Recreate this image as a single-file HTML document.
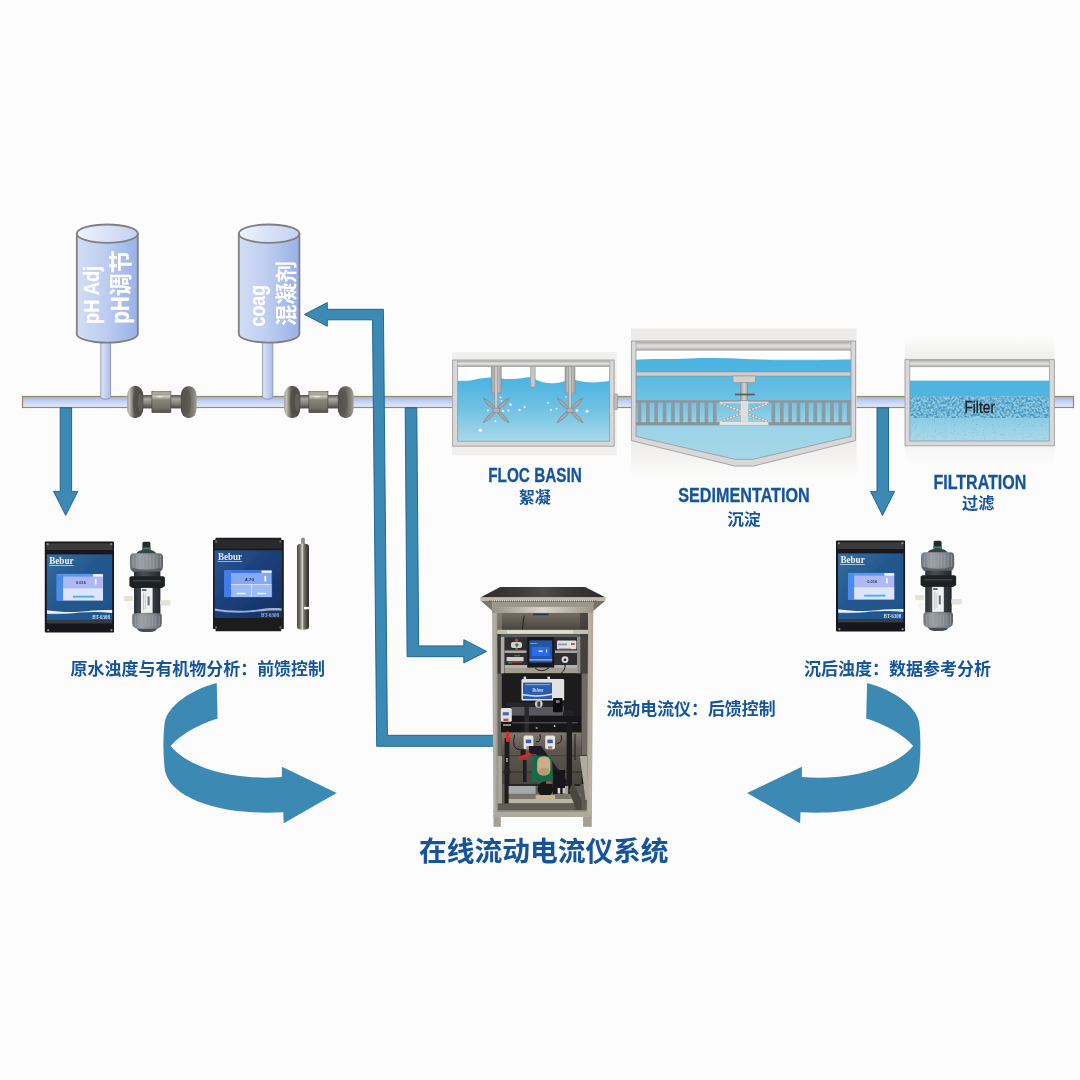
<!DOCTYPE html>
<html lang="zh-CN">
<head>
<meta charset="utf-8">
<title>在线流动电流仪系统</title>
<style>html,body{margin:0;padding:0;background:#fcfcfc;}body{width:1080px;height:1080px;overflow:hidden;}svg{display:block;}</style>
</head>
<body>
<svg width="1080" height="1080" viewBox="0 0 1080 1080">
<defs>
<linearGradient id="gPipe" x1="0" y1="0" x2="0" y2="1">
 <stop offset="0" stop-color="#9bb3ec"/><stop offset="0.45" stop-color="#c3d1f3"/><stop offset="1" stop-color="#e6ebf9"/>
</linearGradient>
<linearGradient id="gStem" x1="0" y1="0" x2="1" y2="0">
 <stop offset="0" stop-color="#dfe6f8"/><stop offset="1" stop-color="#a9bdec"/>
</linearGradient>
<linearGradient id="gTank" x1="0" y1="0" x2="1" y2="0">
 <stop offset="0" stop-color="#d3def5"/><stop offset="0.5" stop-color="#bccbf0"/><stop offset="1" stop-color="#98b1e6"/>
</linearGradient>
<linearGradient id="gTankTop" x1="0" y1="0" x2="1" y2="0">
 <stop offset="0" stop-color="#eef2fc"/><stop offset="1" stop-color="#c3d2f2"/>
</linearGradient>
<linearGradient id="gWater" x1="0" y1="0" x2="0" y2="1">
 <stop offset="0" stop-color="#4ab3e1"/><stop offset="0.45" stop-color="#6cc0e3"/><stop offset="1" stop-color="#a9d9ea"/>
</linearGradient>
<linearGradient id="gFrameH" x1="0" y1="0" x2="0" y2="1">
 <stop offset="0" stop-color="#b4b4b4"/><stop offset="0.5" stop-color="#e0e0e0"/><stop offset="1" stop-color="#bebebe"/>
</linearGradient>
<linearGradient id="gFrameV" x1="0" y1="0" x2="1" y2="0">
 <stop offset="0" stop-color="#a9a9a9"/><stop offset="0.5" stop-color="#dcdcdc"/><stop offset="1" stop-color="#b4b4b4"/>
</linearGradient>


<linearGradient id="gNeck" x1="0" y1="0" x2="0" y2="1">
 <stop offset="0" stop-color="#55544f"/><stop offset="0.3" stop-color="#a9a8a0"/><stop offset="0.55" stop-color="#8c8b84"/><stop offset="1" stop-color="#4a4944"/>
</linearGradient>
<linearGradient id="gBlock" x1="0" y1="0" x2="0" y2="1">
 <stop offset="0" stop-color="#66645c"/><stop offset="0.14" stop-color="#a5a399"/><stop offset="0.24" stop-color="#c9c7bf"/><stop offset="0.4" stop-color="#88867c"/><stop offset="0.8" stop-color="#716f65"/><stop offset="1" stop-color="#48463f"/>
</linearGradient>
<radialGradient id="gFlange" cx="0.45" cy="0.5" r="0.6">
 <stop offset="0" stop-color="#5f5e59"/><stop offset="0.6" stop-color="#73726c"/><stop offset="0.85" stop-color="#8f8e86"/><stop offset="1" stop-color="#b0aea4"/>
</radialGradient>
<linearGradient id="gFlangeL" x1="0" y1="0" x2="1" y2="0">
 <stop offset="0" stop-color="#a4a296"/><stop offset="0.14" stop-color="#c4c2b5"/><stop offset="0.32" stop-color="#86857d"/><stop offset="0.46" stop-color="#5a5954"/><stop offset="1" stop-color="#4c4b46"/>
</linearGradient>
<linearGradient id="gFlangeR" x1="0" y1="0" x2="1" y2="0">
 <stop offset="0" stop-color="#4f4e49"/><stop offset="0.45" stop-color="#63625c"/><stop offset="0.75" stop-color="#7f7e76"/><stop offset="1" stop-color="#a09e94"/>
</linearGradient>


<linearGradient id="gImgBg" x1="0" y1="0" x2="0" y2="1">
 <stop offset="0" stop-color="#ecebe9"/><stop offset="0.72" stop-color="#ebe9e7"/><stop offset="0.88" stop-color="#f4f3f2"/><stop offset="1" stop-color="#fcfcfc"/>
</linearGradient>
<linearGradient id="gWaterS" gradientUnits="userSpaceOnUse" x1="0" y1="359" x2="0" y2="462">
 <stop offset="0" stop-color="#4bb4e1"/><stop offset="0.4" stop-color="#6fc2e4"/><stop offset="0.64" stop-color="#9bd3e7"/><stop offset="1" stop-color="#a6d8e8"/>
</linearGradient>
<linearGradient id="gMetalV" x1="0" y1="0" x2="1" y2="0">
 <stop offset="0" stop-color="#9a9a9a"/><stop offset="0.5" stop-color="#d6d6d6"/><stop offset="1" stop-color="#9f9f9f"/>
</linearGradient>


<linearGradient id="gFiltBg" x1="0" y1="0" x2="0" y2="1">
 <stop offset="0" stop-color="#fbfbfb"/><stop offset="0.15" stop-color="#efeeec"/><stop offset="0.7" stop-color="#f1f0ee"/><stop offset="1" stop-color="#fbfbfb"/>
</linearGradient>
<linearGradient id="gWater2" x1="0" y1="0" x2="0" y2="1">
 <stop offset="0" stop-color="#8ccbe3"/><stop offset="1" stop-color="#abdae9"/>
</linearGradient>
<filter id="fMedia" x="0" y="0" width="100%" height="100%" color-interpolation-filters="sRGB">
 <feTurbulence type="fractalNoise" baseFrequency="0.42" numOctaves="2" seed="7" result="n"/>
 <feColorMatrix in="n" type="matrix" values="0 0 0 0 0.27  0 0 0 0 0.59  0 0 0 0 0.76  2.8 0 0 0 -0.95" result="dark"/>
 <feFlood flood-color="#92cde4"/>
 <feComposite in="dark" operator="over" result="m"/>
 <feComposite in="m" in2="SourceGraphic" operator="in"/>
</filter>
<filter id="fSpeck" x="0" y="0" width="100%" height="100%" color-interpolation-filters="sRGB">
 <feTurbulence type="fractalNoise" baseFrequency="0.9" numOctaves="1" seed="11" result="n"/>
 <feColorMatrix in="n" type="matrix" values="0 0 0 0 0.36  0 0 0 0 0.64  0 0 0 0 0.78  0 3.0 0 0 -1.85" result="sp"/>
 <feComposite in="sp" in2="SourceGraphic" operator="in"/>
</filter>
<pattern id="pSpeck" x="0" y="0" width="7" height="5" patternUnits="userSpaceOnUse">
 <circle cx="1" cy="1" r="0.45" fill="#5fa9c9"/><circle cx="4.4" cy="2.6" r="0.45" fill="#5fa9c9"/><circle cx="2.6" cy="4.1" r="0.4" fill="#6ab0cf"/><circle cx="6" cy="0.6" r="0.4" fill="#6ab0cf"/>
</pattern>


<linearGradient id="gFace" x1="0" y1="0" x2="1" y2="1">
 <stop offset="0" stop-color="#356d9e"/><stop offset="0.45" stop-color="#23588e"/><stop offset="1" stop-color="#1e528a"/>
</linearGradient>
<linearGradient id="gFace2" x1="0" y1="0" x2="1" y2="1">
 <stop offset="0" stop-color="#2c5893"/><stop offset="0.45" stop-color="#1c3f7a"/><stop offset="1" stop-color="#152f60"/>
</linearGradient>
<linearGradient id="gCap" x1="0" y1="0" x2="1" y2="0">
 <stop offset="0" stop-color="#6f757c"/><stop offset="0.3" stop-color="#9ba0a6"/><stop offset="0.7" stop-color="#858a91"/><stop offset="1" stop-color="#5c6167"/>
</linearGradient>
<linearGradient id="gBody" x1="0" y1="0" x2="1" y2="0">
 <stop offset="0" stop-color="#2b3034"/><stop offset="0.35" stop-color="#4a5157"/><stop offset="1" stop-color="#24282c"/>
</linearGradient>
<linearGradient id="gProbe" x1="0" y1="0" x2="1" y2="0">
 <stop offset="0" stop-color="#4a4641"/><stop offset="0.26" stop-color="#7c7870"/><stop offset="0.46" stop-color="#d4d1ca"/><stop offset="0.56" stop-color="#7e7a72"/><stop offset="0.8" stop-color="#4a4641"/><stop offset="1" stop-color="#2f2c29"/>
</linearGradient>
<filter id="fBlur" x="-5%" y="-5%" width="110%" height="110%"><feGaussianBlur stdDeviation="0.5"/></filter>
<filter id="fBlur2" x="-5%" y="-5%" width="110%" height="110%"><feGaussianBlur stdDeviation="0.5"/></filter>


<linearGradient id="gRoof" x1="0" y1="0" x2="1" y2="0">
 <stop offset="0" stop-color="#2f2c2b"/><stop offset="0.3" stop-color="#3d3a38"/><stop offset="0.5" stop-color="#4f4c4a"/><stop offset="0.7" stop-color="#3b3836"/><stop offset="1" stop-color="#2c2a29"/>
</linearGradient>
<linearGradient id="gSteelL" x1="0" y1="0" x2="1" y2="0">
 <stop offset="0" stop-color="#a29f96"/><stop offset="0.4" stop-color="#b6b2a8"/><stop offset="1" stop-color="#99958c"/>
</linearGradient>
<linearGradient id="gSteelR" x1="0" y1="0" x2="1" y2="0">
 <stop offset="0" stop-color="#aca297"/><stop offset="0.5" stop-color="#bcb2a5"/><stop offset="1" stop-color="#ada498"/>
</linearGradient>
<linearGradient id="gFasciaH" x1="0" y1="0" x2="1" y2="0">
 <stop offset="0" stop-color="#979185"/><stop offset="0.5" stop-color="#dbd8ce"/><stop offset="1" stop-color="#9c968a"/>
</linearGradient>
<linearGradient id="gBack1" x1="0" y1="0" x2="0" y2="1">
 <stop offset="0" stop-color="#756d63"/><stop offset="0.45" stop-color="#625b53"/><stop offset="1" stop-color="#48433e"/>
</linearGradient>
<linearGradient id="gBack2" x1="0" y1="0" x2="0" y2="1">
 <stop offset="0" stop-color="#80796e"/><stop offset="0.3" stop-color="#5f5850"/><stop offset="1" stop-color="#4a443e"/>
</linearGradient>
</defs>
<rect x="0" y="0" width="1080" height="1080" fill="#fcfcfc"/>
<rect x="22.5" y="396.5" width="430.5" height="11" fill="url(#gPipe)" stroke="#9a8d5a" stroke-width="1.2"/>
<rect x="612" y="396.5" width="20" height="11" fill="url(#gPipe)" stroke="#9a8d5a" stroke-width="1.2"/>
<rect x="855" y="396.5" width="51" height="11" fill="url(#gPipe)" stroke="#9a8d5a" stroke-width="1.2"/>
<rect x="1053" y="396.5" width="20.5" height="11" fill="url(#gPipe)" stroke="#9a8d5a" stroke-width="1.2"/>
<path d="M100.8 340 V397.5 Q105.69999999999999 401 110.6 397.5 V340 Z" fill="url(#gStem)" stroke="#8f94a8" stroke-width="0.9"/>
<path d="M76.8 233.7 V334 A30.500000000000007 8.6 0 0 0 137.8 334 V233.7 Z" fill="url(#gTank)" stroke="#808080" stroke-width="1.8"/>
<ellipse cx="107.30000000000001" cy="233.7" rx="30.500000000000007" ry="9.2" fill="url(#gTankTop)" stroke="#808080" stroke-width="1.8"/>
<path d="M262.6 340 V397.5 Q267.70000000000005 401 272.8 397.5 V340 Z" fill="url(#gStem)" stroke="#8f94a8" stroke-width="0.9"/>
<path d="M238.8 233.7 V334 A30.299999999999983 8.6 0 0 0 299.4 334 V233.7 Z" fill="url(#gTank)" stroke="#808080" stroke-width="1.8"/>
<ellipse cx="269.1" cy="233.7" rx="30.299999999999983" ry="9.2" fill="url(#gTankTop)" stroke="#808080" stroke-width="1.8"/>
<g opacity="0.999"><text transform="translate(98.9 324) rotate(-90)" font-family='"Liberation Sans",sans-serif' font-size="21.3" font-weight="bold" fill="#ffffff" stroke="#ffffff" stroke-width="0.25" textLength="58.2" lengthAdjust="spacingAndGlyphs">pH Adj</text></g>
<g opacity="0.999"><text transform="translate(128.9 323.8) rotate(-90)" font-family='"Liberation Sans",sans-serif' font-size="25.6" font-weight="bold" fill="#ffffff" stroke="#ffffff" stroke-width="0.25" textLength="27.6" lengthAdjust="spacingAndGlyphs">pH</text></g>
<g opacity="0.999"><text transform="translate(129.2 296.2) rotate(-90)" font-family='"Liberation Sans","Noto Sans CJK SC",sans-serif' font-size="23" font-weight="bold" fill="#ffffff">调节</text></g>
<g opacity="0.999"><text transform="translate(265.1 326.4) rotate(-90)" font-family='"Liberation Sans",sans-serif' font-size="22.4" font-weight="bold" fill="#ffffff" stroke="#ffffff" stroke-width="0.25" textLength="41.4" lengthAdjust="spacingAndGlyphs">coag</text></g>
<g opacity="0.999"><text transform="translate(294 326) rotate(-90)" font-family='"Liberation Sans","Noto Sans CJK SC",sans-serif' font-size="21.6" font-weight="bold" fill="#ffffff">混凝剂</text></g>
<path d="M60.2 407.8 H71.6 V491.4 H77.8 L65.7 515.4 L53.6 491.4 H60.2 Z" fill="#3c89b3" stroke="#13608c" stroke-width="0.9" stroke-linejoin="miter"/>
<path d="M877 407.8 H888.5 V491.4 H894.6 L882.5 515.4 L870.5 491.4 H877 Z" fill="#3c89b3" stroke="#13608c" stroke-width="0.9" stroke-linejoin="miter"/>
<path d="M405.2 407.8 H416.8 L418.7 645.9 H463.8 V639.7 L486.7 651.4 L463.8 663 V656.7 H407.1 Z" fill="#3c89b3" stroke="#13608c" stroke-width="0.9" stroke-linejoin="miter"/>
<path d="M494 735.3 H387.4 L383.4 309.3 H327.3 V302.6 L304.4 314.4 L327.3 326.3 V319.8 H372.5 L376.7 746.3 H494 Z" fill="#3c89b3" stroke="#13608c" stroke-width="0.9" stroke-linejoin="miter"/>
<g transform="translate(0.00 0)"><rect x="138" y="395" width="48" height="13.4" fill="url(#gNeck)"/><rect x="127.1" y="386.1" width="16.2" height="31.9" rx="7" ry="9.5" fill="url(#gFlangeL)"/><ellipse cx="137" cy="402.2" rx="4.4" ry="13" fill="#4a4a45" opacity="0.5"/><ellipse cx="140.4" cy="402.2" rx="2.4" ry="9" fill="#6f6e67" opacity="0.6"/><rect x="180.8" y="386.3" width="15.8" height="31.8" rx="7" ry="9.5" fill="url(#gFlangeR)"/><ellipse cx="187.4" cy="402.2" rx="3.6" ry="12" fill="#4f4e4a" opacity="0.45"/><rect x="151.9" y="391.3" width="19" height="21.3" fill="url(#gBlock)" stroke="#45433c" stroke-width="0.6"/><rect x="152.4" y="391.4" width="18" height="2.6" fill="#a9a79d"/><rect x="152.4" y="410.4" width="18" height="2.0" fill="#5c5a52"/><ellipse cx="160" cy="396.6" rx="3.6" ry="0.9" fill="#ecebe4" opacity="0.8"/></g>
<g transform="translate(157.00 0)"><rect x="138" y="395" width="48" height="13.4" fill="url(#gNeck)"/><rect x="127.1" y="386.1" width="16.2" height="31.9" rx="7" ry="9.5" fill="url(#gFlangeL)"/><ellipse cx="137" cy="402.2" rx="4.4" ry="13" fill="#4a4a45" opacity="0.5"/><ellipse cx="140.4" cy="402.2" rx="2.4" ry="9" fill="#6f6e67" opacity="0.6"/><rect x="180.8" y="386.3" width="15.8" height="31.8" rx="7" ry="9.5" fill="url(#gFlangeR)"/><ellipse cx="187.4" cy="402.2" rx="3.6" ry="12" fill="#4f4e4a" opacity="0.45"/><rect x="151.9" y="391.3" width="19" height="21.3" fill="url(#gBlock)" stroke="#45433c" stroke-width="0.6"/><rect x="152.4" y="391.4" width="18" height="2.6" fill="#a9a79d"/><rect x="152.4" y="410.4" width="18" height="2.0" fill="#5c5a52"/><ellipse cx="160" cy="396.6" rx="3.6" ry="0.9" fill="#ecebe4" opacity="0.8"/></g>
<rect x="452" y="352.3" width="164.8" height="103" fill="#f0efed"/>
<rect x="457" y="366" width="153" height="76" fill="#ffffff"/>
<path d="M457.3 381 C462 380.5 468 381.5 474 379.8 C480 378.5 486 377.5 491 377.6 L501 378.4 C508 379.4 516 379.2 522 378.3 C526 377.6 529 377 531 377.5 L535 379 C540 382 546 383.2 552 383.3 C558 383.4 562 382 565 381 L575 380 C581 381.5 588 382.6 595 382.4 C601 382.2 606 381.2 610 381 V441.5 H457.3 Z" fill="url(#gWater)"/>
<circle cx="500.5" cy="397.5" r="1.0" fill="#ffffff" opacity="0.9"/>
<circle cx="501.5" cy="401" r="0.9" fill="#ffffff" opacity="0.9"/>
<circle cx="510.5" cy="404.6" r="1.3" fill="#ffffff" opacity="0.9"/>
<circle cx="508.5" cy="410.5" r="1.0" fill="#ffffff" opacity="0.9"/>
<circle cx="488" cy="410.6" r="1.0" fill="#ffffff" opacity="0.9"/>
<circle cx="519.5" cy="410" r="1.2" fill="#ffffff" opacity="0.9"/>
<circle cx="524.5" cy="407.2" r="1.1" fill="#ffffff" opacity="0.9"/>
<circle cx="495.5" cy="421.2" r="0.9" fill="#ffffff" opacity="0.9"/>
<circle cx="480.3" cy="430.2" r="1.8" fill="#ffffff" opacity="0.9"/>
<circle cx="503" cy="411" r="1.0" fill="#ffffff" opacity="0.9"/>
<circle cx="548" cy="402.8" r="0.9" fill="#ffffff" opacity="0.9"/>
<circle cx="551" cy="410" r="1.1" fill="#ffffff" opacity="0.9"/>
<circle cx="556.5" cy="408.6" r="0.9" fill="#ffffff" opacity="0.9"/>
<circle cx="577" cy="410.5" r="1.2" fill="#ffffff" opacity="0.9"/>
<circle cx="587" cy="411.3" r="1.5" fill="#ffffff" opacity="0.9"/>
<circle cx="566" cy="397" r="0.8" fill="#ffffff" opacity="0.9"/>
<rect x="491.2" y="366" width="10" height="27" fill="url(#gMetalV)" stroke="#8e8e8e" stroke-width="0.6"/><rect x="494.59999999999997" y="366" width="3.2" height="44" fill="#c9c9c9" stroke="#8a8a8a" stroke-width="0.6"/><g transform="translate(496.2 410.4) rotate(-136.6)"><path d="M1 0 Q8.1 -3.4 17.9 0 Q8.1 3.4 1 0 Z" fill="#a7a7a7" stroke="#7d7d7d" stroke-width="0.6"/></g><g transform="translate(496.2 410.4) rotate(-43.4)"><path d="M1 0 Q8.1 -3.4 17.9 0 Q8.1 3.4 1 0 Z" fill="#a7a7a7" stroke="#7d7d7d" stroke-width="0.6"/></g><g transform="translate(496.2 410.4) rotate(136.6)"><path d="M1 0 Q8.1 -3.4 17.9 0 Q8.1 3.4 1 0 Z" fill="#a7a7a7" stroke="#7d7d7d" stroke-width="0.6"/></g><g transform="translate(496.2 410.4) rotate(43.4)"><path d="M1 0 Q8.1 -3.4 17.9 0 Q8.1 3.4 1 0 Z" fill="#a7a7a7" stroke="#7d7d7d" stroke-width="0.6"/></g><rect x="493.2" y="408.2" width="6" height="4.4" rx="1" fill="#b5b5b5" stroke="#808080" stroke-width="0.6"/>
<rect x="565" y="366" width="10" height="27" fill="url(#gMetalV)" stroke="#8e8e8e" stroke-width="0.6"/><rect x="568.4" y="366" width="3.2" height="44" fill="#c9c9c9" stroke="#8a8a8a" stroke-width="0.6"/><g transform="translate(570 410.4) rotate(-136.6)"><path d="M1 0 Q8.1 -3.4 17.9 0 Q8.1 3.4 1 0 Z" fill="#a7a7a7" stroke="#7d7d7d" stroke-width="0.6"/></g><g transform="translate(570 410.4) rotate(-43.4)"><path d="M1 0 Q8.1 -3.4 17.9 0 Q8.1 3.4 1 0 Z" fill="#a7a7a7" stroke="#7d7d7d" stroke-width="0.6"/></g><g transform="translate(570 410.4) rotate(136.6)"><path d="M1 0 Q8.1 -3.4 17.9 0 Q8.1 3.4 1 0 Z" fill="#a7a7a7" stroke="#7d7d7d" stroke-width="0.6"/></g><g transform="translate(570 410.4) rotate(43.4)"><path d="M1 0 Q8.1 -3.4 17.9 0 Q8.1 3.4 1 0 Z" fill="#a7a7a7" stroke="#7d7d7d" stroke-width="0.6"/></g><rect x="567" y="408.2" width="6" height="4.4" rx="1" fill="#b5b5b5" stroke="#808080" stroke-width="0.6"/>
<rect x="530.6" y="366" width="4.6" height="21" rx="1.2" fill="#c6c6c6" stroke="#999" stroke-width="0.6"/>
<path d="M452.6 360 H614.2 V446.2 H452.6 Z M457.6 366.4 V441.3 H609.6 V366.4 Z" fill="#d8d8d8" fill-rule="evenodd" stroke="#969696" stroke-width="0.8"/>
<rect x="457.3" y="361" width="152.6" height="5" fill="url(#gFrameH)" stroke="#9a9a9a" stroke-width="0.5"/>
<rect x="614" y="394" width="3.6" height="15.6" rx="1" fill="#bdbdbd" stroke="#8c8c8c" stroke-width="0.6"/>
<g opacity="0.999"><text x="488.2" y="481.7" font-family='"Liberation Sans",sans-serif' font-size="19.4" font-weight="bold" fill="#14549b" textLength="93.6" lengthAdjust="spacingAndGlyphs" stroke="#14549b" stroke-width="0.3">FLOC BASIN</text></g>
<g opacity="0.999"><text x="518.8" y="503.4" font-family='"Liberation Sans","Noto Sans CJK SC",sans-serif' font-size="16" font-weight="bold" fill="#14549b" textLength="32.0" lengthAdjust="spacingAndGlyphs" >絮凝</text></g>
<rect x="631" y="328.2" width="225.6" height="148" fill="url(#gImgBg)"/>
<path d="M636 351 H851 V437 L753 460.5 H735 L636 437 Z" fill="#ffffff"/>
<path d="M636 360 C650 358.6 670 359.6 690 358.6 C710 357.6 730 358.2 750 359.2 C775 360.6 800 360.8 851 359.4 V437 L753 460.5 H735 L636 437 Z" fill="url(#gWaterS)"/>
<rect x="636" y="359.5" width="215" height="13" fill="#4ab3e1" opacity="0.55"/>
<rect x="636" y="372" width="215" height="4" fill="#cfcfcf" stroke="#909090" stroke-width="0.6"/>
<rect x="733" y="376" width="22.4" height="6.6" fill="#d0d0d0" stroke="#909090" stroke-width="0.6"/>
<rect x="740.6" y="382.6" width="7.2" height="40" fill="url(#gMetalV)" stroke="#8a8a8a" stroke-width="0.5"/>
<rect x="735" y="393.6" width="19.8" height="1.8" fill="#5e5e5e"/>
<rect x="637.6" y="402" width="3.7" height="21" fill="#8c9aa1"/><rect x="646.0" y="402" width="3.7" height="21" fill="#8c9aa1"/><rect x="654.3" y="402" width="3.7" height="21" fill="#8c9aa1"/><rect x="662.7" y="402" width="3.7" height="21" fill="#8c9aa1"/><rect x="671.1" y="402" width="3.7" height="21" fill="#8c9aa1"/><rect x="679.5" y="402" width="3.7" height="21" fill="#8c9aa1"/><rect x="687.8" y="402" width="3.7" height="21" fill="#8c9aa1"/><rect x="696.2" y="402" width="3.7" height="21" fill="#8c9aa1"/><rect x="704.6" y="402" width="3.7" height="21" fill="#8c9aa1"/><rect x="712.9" y="402" width="3.7" height="21" fill="#8c9aa1"/><rect x="771.5" y="402" width="3.7" height="21" fill="#8c9aa1"/><rect x="779.9" y="402" width="3.7" height="21" fill="#8c9aa1"/><rect x="788.3" y="402" width="3.7" height="21" fill="#8c9aa1"/><rect x="796.6" y="402" width="3.7" height="21" fill="#8c9aa1"/><rect x="805.0" y="402" width="3.7" height="21" fill="#8c9aa1"/><rect x="813.4" y="402" width="3.7" height="21" fill="#8c9aa1"/><rect x="821.7" y="402" width="3.7" height="21" fill="#8c9aa1"/><rect x="830.1" y="402" width="3.7" height="21" fill="#8c9aa1"/><rect x="838.5" y="402" width="3.7" height="21" fill="#8c9aa1"/><rect x="846.9" y="402" width="3.7" height="21" fill="#8c9aa1"/>
<rect x="636" y="400.2" width="215" height="2.6" fill="#8e979c"/>
<rect x="636" y="422.2" width="215" height="3.2" fill="#8a959b"/>
<path d="M720.4 403.4 L767.8 421.6 M720.4 421.6 L767.8 403.4" fill="none" stroke="#9aa4a8" stroke-width="2.6"/>
<path d="M720.4 403.4 L767.8 421.6 M720.4 421.6 L767.8 403.4" fill="none" stroke="#e6e6e6" stroke-width="1.5" stroke-dasharray="2.2 1.2"/>
<rect x="719.6" y="401.6" width="48.8" height="1.8" fill="#d4d4d4"/><rect x="719.6" y="422" width="48.8" height="3.2" fill="#e4e4e4"/>
<rect x="740.6" y="401" width="7.6" height="22" fill="#dedede"/>
<path d="M631.4 341 H855.6 V440.6 L753.6 466 H734.6 L631.4 440.6 Z M636 350 V436.4 L735.4 459.4 H752.8 L851 436.4 V350 Z" fill="#d8d8d8" fill-rule="evenodd" stroke="#969696" stroke-width="0.8"/>
<rect x="636" y="342" width="215" height="7.6" fill="url(#gFrameH)" stroke="#9a9a9a" stroke-width="0.5"/>
<g opacity="0.999"><text x="678.2" y="502.4" font-family='"Liberation Sans",sans-serif' font-size="19.4" font-weight="bold" fill="#14549b" textLength="131.6" lengthAdjust="spacingAndGlyphs" stroke="#14549b" stroke-width="0.3">SEDIMENTATION</text></g>
<g opacity="0.999"><text x="727.2" y="524.6" font-family='"Liberation Sans","Noto Sans CJK SC",sans-serif' font-size="16" font-weight="bold" fill="#14549b" textLength="33.4" lengthAdjust="spacingAndGlyphs" >沉淀</text></g>
<rect x="904.8" y="338.6" width="149.8" height="125" fill="url(#gFiltBg)"/>
<rect x="909.6" y="366" width="140" height="75.4" fill="#ffffff"/>
<rect x="909.6" y="380.6" width="140" height="16" fill="#4fb5e0"/>
<rect x="909.6" y="396.4" width="140" height="21.6" fill="#6fb8d8"/>
<rect x="909.6" y="396.4" width="140" height="21.6" fill="#6fb8d8" filter="url(#fMedia)"/>
<rect x="909.6" y="418" width="140" height="23.4" fill="url(#gWater2)"/>
<rect x="909.6" y="418" width="140" height="23.4" fill="#fff" filter="url(#fSpeck)"/>
<path d="M905 359.6 H1054.4 V445.8 H905 Z M909.8 366.6 V441 H1049.4 V366.6 Z" fill="#d8d8d8" fill-rule="evenodd" stroke="#969696" stroke-width="0.8"/>
<rect x="909.6" y="360.6" width="140" height="5.6" fill="url(#gFrameH)" stroke="#9a9a9a" stroke-width="0.5"/>
<g opacity="0.999"><text x="964.4" y="412.5" font-family='"Liberation Sans",sans-serif' font-size="16.2" font-weight="normal" fill="#1a1a1a" textLength="30.6" lengthAdjust="spacingAndGlyphs" stroke="#1a1a1a" stroke-width="0.28">Filter</text></g>
<g opacity="0.999"><text x="933.4" y="489" font-family='"Liberation Sans",sans-serif' font-size="19.4" font-weight="bold" fill="#14549b" textLength="93.0" lengthAdjust="spacingAndGlyphs" stroke="#14549b" stroke-width="0.3">FILTRATION</text></g>
<g opacity="0.999"><text x="962" y="508.6" font-family='"Liberation Sans","Noto Sans CJK SC",sans-serif' font-size="16" font-weight="bold" fill="#14549b" textLength="32.4" lengthAdjust="spacingAndGlyphs" >过滤</text></g>
<g opacity="0.999"><text x="70.6" y="675.2" font-family='"Liberation Sans","Noto Sans CJK SC",sans-serif' font-size="17" font-weight="bold" fill="#14549b" textLength="254.4" lengthAdjust="spacingAndGlyphs" >原水浊度与有机物分析：前馈控制</text></g>
<g opacity="0.999"><text x="804" y="675.2" font-family='"Liberation Sans","Noto Sans CJK SC",sans-serif' font-size="17" font-weight="bold" fill="#14549b" textLength="187.0" lengthAdjust="spacingAndGlyphs" >沉后浊度：数据参考分析</text></g>
<g opacity="0.999"><text x="606.4" y="714.6" font-family='"Liberation Sans","Noto Sans CJK SC",sans-serif' font-size="17" font-weight="bold" fill="#14549b" textLength="169.2" lengthAdjust="spacingAndGlyphs" >流动电流仪：后馈控制</text></g>
<g opacity="0.999"><text x="419" y="860.6" font-family='"Liberation Sans","Noto Sans CJK SC",sans-serif' font-size="27.8" font-weight="bold" fill="#14549b" textLength="249.6" lengthAdjust="spacingAndGlyphs" >在线流动电流仪系统</text></g>
<path d="M216.7 683 C190 690 168 706 164.8 722 C163 735 163 752 164.4 766 C165.5 797 218 816 283.3 812.2 L283.7 823.3 L336.7 793.1 L281.9 766.7 L281.9 777 C237 780.4 191 770 170.7 745.9 C180 735 197 725 217.6 718.5 Z" fill="#3c89b3"/>
<path d="M216.7 683 C190 690 168 706 164.8 722 C163 735 163 752 164.4 766 C165.5 797 218 816 283.3 812.2 L283.7 823.3 L336.7 793.1 L281.9 766.7 L281.9 777 C237 780.4 191 770 170.7 745.9 C180 735 197 725 217.6 718.5 Z" fill="#3c89b3" transform="translate(1083.8 0) scale(-1 1)"/>
<g transform="translate(0 0)" filter="url(#fBlur)"><rect x="44.8" y="541.6" width="69.2" height="91" rx="1" fill="#16181b"/><rect x="46.2" y="543.2" width="66.4" height="6.8" fill="#3a3b3e"/><rect x="46.8" y="554.4" width="65.4" height="65.8" fill="url(#gFace)"/><rect x="46.8" y="620.2" width="65.4" height="3.2" fill="#3a3c3f"/><rect x="56.2" y="573.6" width="47.4" height="27.4" fill="#2e5fa6"/><rect x="56.8" y="574.2" width="46.2" height="26.2" fill="#aeb9f3"/><rect x="56.8" y="574.2" width="6.2" height="26.2" fill="#4a8cee"/><rect x="63" y="574.2" width="30.2" height="2.4" fill="#5a96f0"/><rect x="93.2" y="574.2" width="9.8" height="2.4" fill="#f4f6ff"/><rect x="63" y="588.3" width="40" height="12.1" fill="#dde5fb"/><rect x="72.9" y="595.7" width="21.3" height="1.9" fill="#4ab0f0"/><text x="76.1" y="584.4" font-family='"Liberation Sans",sans-serif' font-weight="bold" font-size="3.9" fill="#2a2f55" textLength="9.8" lengthAdjust="spacingAndGlyphs">0.016</text><rect x="94.8" y="579" width="1.8" height="5.4" fill="#f4f4ff"/><path d="M47 610.3 C58 612 70 612.4 79 611.8 C90 610.6 101 609.6 112.2 610 L112.2 613 C101 611.8 90 612 79 612.6 C70 614 58 614.6 47 613.9 Z" fill="#f0f3f8"/><rect x="46.8" y="613.6" width="65.4" height="6.6" fill="#1f5c9a" opacity="0.6"/><circle cx="47.6" cy="544.2" r="1.1" fill="#8a8c8e"/><circle cx="111.2" cy="544.2" r="1.1" fill="#8a8c8e"/><circle cx="48.2" cy="630.2" r="1.1" fill="#8a8c8e"/><circle cx="111.4" cy="630.2" r="1.1" fill="#8a8c8e"/><text x="49.3" y="564.4" font-family='"Liberation Serif",serif' font-weight="bold" font-size="10.6" fill="#f2f4f8" textLength="24.2" lengthAdjust="spacingAndGlyphs">Bebur</text><rect x="49" y="565.3" width="24.6" height="0.7" fill="#e6eaf2"/><text x="92.2" y="618.9" font-family='"Liberation Serif",serif' font-weight="bold" font-size="5.2" fill="#d6dde8" textLength="17.8" lengthAdjust="spacingAndGlyphs">BT-6308</text></g>
<g transform="translate(0 0)" filter="url(#fBlur)"><rect x="142.4" y="541.8" width="8" height="8.6" rx="1.6" fill="#25292c"/><rect x="142" y="547.4" width="8.8" height="2.2" fill="#278a70"/><path d="M135.8 555 Q136.5 549.6 146.4 549.4 Q156 549.6 156.8 555 Z" fill="#3c4248"/><path d="M129.9 557.5 Q129.9 553.2 134 553.2 H159 Q163 553.2 163 557.5 V566 Q163 572.6 156 572.6 H137 Q129.9 572.6 129.9 566 Z" fill="url(#gCap)"/><rect x="132.6" y="555.6" width="1.2" height="12.4" fill="#a4a9ae" opacity="0.55"/><rect x="136.0" y="555.6" width="1.2" height="12.4" fill="#a4a9ae" opacity="0.55"/><rect x="139.4" y="555.6" width="1.2" height="12.4" fill="#a4a9ae" opacity="0.55"/><rect x="142.8" y="555.6" width="1.2" height="12.4" fill="#a4a9ae" opacity="0.55"/><rect x="146.2" y="555.6" width="1.2" height="12.4" fill="#a4a9ae" opacity="0.55"/><rect x="149.6" y="555.6" width="1.2" height="12.4" fill="#a4a9ae" opacity="0.55"/><rect x="153.0" y="555.6" width="1.2" height="12.4" fill="#a4a9ae" opacity="0.55"/><rect x="156.4" y="555.6" width="1.2" height="12.4" fill="#a4a9ae" opacity="0.55"/><rect x="159.8" y="555.6" width="1.2" height="12.4" fill="#a4a9ae" opacity="0.55"/><path d="M131 567.4 Q146.4 572 162 567.4 Q161 572.6 156 572.6 H137 Q132 572.6 131 567.4 Z" fill="#5b6167"/><rect x="134" y="571.6" width="26.4" height="43" fill="url(#gBody)"/><path d="M129.4 577.4 L131 576.2 H163.4 L164.9 577.6 V586 L162 588 H132.4 L129.4 586 Z" fill="#1d2023"/><rect x="133" y="580" width="28" height="1.6" fill="#3a3f44"/><rect x="141" y="587.9" width="11.6" height="25" fill="#eef0f1"/><rect x="142" y="589.4" width="4.4" height="1.3" fill="#222"/><rect x="147.6" y="596.4" width="2" height="9" fill="#6a7075"/><rect x="143.2" y="592.4" width="0.9" height="18" fill="#b4babf"/><rect x="145.2" y="594" width="0.8" height="15" fill="#c4c9ce"/><rect x="123.9" y="596" width="9" height="5.3" rx="1.4" fill="#e6e2d6"/><rect x="127.1" y="603.6" width="5.8" height="6" rx="2" fill="#f4f4f2"/><rect x="160.2" y="599.9" width="10.4" height="5.5" rx="1.4" fill="#e6e2d6"/><path d="M136.4 626 H157.7 Q157 631.9 151 631.9 H143 Q137 631.9 136.4 626 Z" fill="#484e54"/><path d="M132.2 616 Q132.2 613.3 135 613.3 H159 Q161.8 613.3 161.8 616 V623 Q161.8 628.8 155 628.8 H139 Q132.2 628.8 132.2 623 Z" fill="url(#gCap)"/><rect x="134.8" y="616" width="1.2" height="10.4" fill="#a4a9ae" opacity="0.5"/><rect x="138.2" y="616" width="1.2" height="10.4" fill="#a4a9ae" opacity="0.5"/><rect x="141.6" y="616" width="1.2" height="10.4" fill="#a4a9ae" opacity="0.5"/><rect x="145.0" y="616" width="1.2" height="10.4" fill="#a4a9ae" opacity="0.5"/><rect x="148.4" y="616" width="1.2" height="10.4" fill="#a4a9ae" opacity="0.5"/><rect x="151.8" y="616" width="1.2" height="10.4" fill="#a4a9ae" opacity="0.5"/><rect x="155.2" y="616" width="1.2" height="10.4" fill="#a4a9ae" opacity="0.5"/><rect x="158.6" y="616" width="1.2" height="10.4" fill="#a4a9ae" opacity="0.5"/></g>
<g transform="translate(791.2 -1)" filter="url(#fBlur)"><rect x="44.8" y="541.6" width="69.2" height="91" rx="1" fill="#16181b"/><rect x="46.2" y="543.2" width="66.4" height="6.8" fill="#3a3b3e"/><rect x="46.8" y="554.4" width="65.4" height="65.8" fill="url(#gFace)"/><rect x="46.8" y="620.2" width="65.4" height="3.2" fill="#3a3c3f"/><rect x="56.2" y="573.6" width="47.4" height="27.4" fill="#2e5fa6"/><rect x="56.8" y="574.2" width="46.2" height="26.2" fill="#aeb9f3"/><rect x="56.8" y="574.2" width="6.2" height="26.2" fill="#4a8cee"/><rect x="63" y="574.2" width="30.2" height="2.4" fill="#5a96f0"/><rect x="93.2" y="574.2" width="9.8" height="2.4" fill="#f4f6ff"/><rect x="63" y="588.3" width="40" height="12.1" fill="#dde5fb"/><rect x="72.9" y="595.7" width="21.3" height="1.9" fill="#4ab0f0"/><text x="76.1" y="584.4" font-family='"Liberation Sans",sans-serif' font-weight="bold" font-size="3.9" fill="#2a2f55" textLength="9.8" lengthAdjust="spacingAndGlyphs">0.016</text><rect x="94.8" y="579" width="1.8" height="5.4" fill="#f4f4ff"/><path d="M47 610.3 C58 612 70 612.4 79 611.8 C90 610.6 101 609.6 112.2 610 L112.2 613 C101 611.8 90 612 79 612.6 C70 614 58 614.6 47 613.9 Z" fill="#f0f3f8"/><rect x="46.8" y="613.6" width="65.4" height="6.6" fill="#1f5c9a" opacity="0.6"/><circle cx="47.6" cy="544.2" r="1.1" fill="#8a8c8e"/><circle cx="111.2" cy="544.2" r="1.1" fill="#8a8c8e"/><circle cx="48.2" cy="630.2" r="1.1" fill="#8a8c8e"/><circle cx="111.4" cy="630.2" r="1.1" fill="#8a8c8e"/><text x="49.3" y="564.4" font-family='"Liberation Serif",serif' font-weight="bold" font-size="10.6" fill="#f2f4f8" textLength="24.2" lengthAdjust="spacingAndGlyphs">Bebur</text><rect x="49" y="565.3" width="24.6" height="0.7" fill="#e6eaf2"/><text x="92.2" y="618.9" font-family='"Liberation Serif",serif' font-weight="bold" font-size="5.2" fill="#d6dde8" textLength="17.8" lengthAdjust="spacingAndGlyphs">BT-6308</text></g>
<g transform="translate(791.2 -1)" filter="url(#fBlur)"><rect x="142.4" y="541.8" width="8" height="8.6" rx="1.6" fill="#25292c"/><rect x="142" y="547.4" width="8.8" height="2.2" fill="#278a70"/><path d="M135.8 555 Q136.5 549.6 146.4 549.4 Q156 549.6 156.8 555 Z" fill="#3c4248"/><path d="M129.9 557.5 Q129.9 553.2 134 553.2 H159 Q163 553.2 163 557.5 V566 Q163 572.6 156 572.6 H137 Q129.9 572.6 129.9 566 Z" fill="url(#gCap)"/><rect x="132.6" y="555.6" width="1.2" height="12.4" fill="#a4a9ae" opacity="0.55"/><rect x="136.0" y="555.6" width="1.2" height="12.4" fill="#a4a9ae" opacity="0.55"/><rect x="139.4" y="555.6" width="1.2" height="12.4" fill="#a4a9ae" opacity="0.55"/><rect x="142.8" y="555.6" width="1.2" height="12.4" fill="#a4a9ae" opacity="0.55"/><rect x="146.2" y="555.6" width="1.2" height="12.4" fill="#a4a9ae" opacity="0.55"/><rect x="149.6" y="555.6" width="1.2" height="12.4" fill="#a4a9ae" opacity="0.55"/><rect x="153.0" y="555.6" width="1.2" height="12.4" fill="#a4a9ae" opacity="0.55"/><rect x="156.4" y="555.6" width="1.2" height="12.4" fill="#a4a9ae" opacity="0.55"/><rect x="159.8" y="555.6" width="1.2" height="12.4" fill="#a4a9ae" opacity="0.55"/><path d="M131 567.4 Q146.4 572 162 567.4 Q161 572.6 156 572.6 H137 Q132 572.6 131 567.4 Z" fill="#5b6167"/><rect x="134" y="571.6" width="26.4" height="43" fill="url(#gBody)"/><path d="M129.4 577.4 L131 576.2 H163.4 L164.9 577.6 V586 L162 588 H132.4 L129.4 586 Z" fill="#1d2023"/><rect x="133" y="580" width="28" height="1.6" fill="#3a3f44"/><rect x="141" y="587.9" width="11.6" height="25" fill="#eef0f1"/><rect x="142" y="589.4" width="4.4" height="1.3" fill="#222"/><rect x="147.6" y="596.4" width="2" height="9" fill="#6a7075"/><rect x="143.2" y="592.4" width="0.9" height="18" fill="#b4babf"/><rect x="145.2" y="594" width="0.8" height="15" fill="#c4c9ce"/><rect x="123.9" y="596" width="9" height="5.3" rx="1.4" fill="#e6e2d6"/><rect x="127.1" y="603.6" width="5.8" height="6" rx="2" fill="#f4f4f2"/><rect x="160.2" y="599.9" width="10.4" height="5.5" rx="1.4" fill="#e6e2d6"/><path d="M136.4 626 H157.7 Q157 631.9 151 631.9 H143 Q137 631.9 136.4 626 Z" fill="#484e54"/><path d="M132.2 616 Q132.2 613.3 135 613.3 H159 Q161.8 613.3 161.8 616 V623 Q161.8 628.8 155 628.8 H139 Q132.2 628.8 132.2 623 Z" fill="url(#gCap)"/><rect x="134.8" y="616" width="1.2" height="10.4" fill="#a4a9ae" opacity="0.5"/><rect x="138.2" y="616" width="1.2" height="10.4" fill="#a4a9ae" opacity="0.5"/><rect x="141.6" y="616" width="1.2" height="10.4" fill="#a4a9ae" opacity="0.5"/><rect x="145.0" y="616" width="1.2" height="10.4" fill="#a4a9ae" opacity="0.5"/><rect x="148.4" y="616" width="1.2" height="10.4" fill="#a4a9ae" opacity="0.5"/><rect x="151.8" y="616" width="1.2" height="10.4" fill="#a4a9ae" opacity="0.5"/><rect x="155.2" y="616" width="1.2" height="10.4" fill="#a4a9ae" opacity="0.5"/><rect x="158.6" y="616" width="1.2" height="10.4" fill="#a4a9ae" opacity="0.5"/></g>
<g filter="url(#fBlur)"><path d="M215.6 537.7 H281.2 V540 H283.8 V629 H281.2 V631.2 H215.6 V629 H213 V540 H215.6 Z" fill="#1b1c1f"/><rect x="215" y="539.4" width="66.6" height="9" fill="#2a2b2e"/><rect x="214.6" y="550.4" width="67.4" height="67.6" fill="url(#gFace2)"/><rect x="214.6" y="618" width="67.4" height="11" fill="#1a1b1f"/><rect x="224" y="570" width="48.2" height="27.6" fill="#2a55b8"/><rect x="224.6" y="570.6" width="47" height="26.4" fill="#86a9f3"/><rect x="224.6" y="570.6" width="6.4" height="26.4" fill="#3d7df0"/><rect x="231" y="570.6" width="30.6" height="2.2" fill="#2f6fe6"/><rect x="261.6" y="570.6" width="10" height="2.2" fill="#f6f8ff"/><rect x="231" y="584.9" width="40.6" height="12.1" fill="#9cbcf6"/><rect x="231" y="584.2" width="40.6" height="0.7" fill="#eef1fd"/><rect x="251.2" y="584.2" width="0.7" height="12.8" fill="#eef1fd"/><text x="245" y="581" font-family='"Liberation Sans",sans-serif' font-weight="bold" font-size="4.4" fill="#1c2350" textLength="9" lengthAdjust="spacingAndGlyphs">4.70</text><rect x="264.4" y="576" width="1.8" height="5.4" fill="#fafaff"/><rect x="236.6" y="592.8" width="9" height="1.4" fill="#f6f7ff"/><rect x="257" y="592.8" width="9" height="1.4" fill="#f6f7ff"/><path d="M214.8 608.4 C228 611 245 611.4 258 609.4 C268 608 276 607.8 281.8 608.4 L281.8 610.8 C276 610.2 268 610.4 258 611.6 C245 613.2 228 613 214.8 610.8 Z" fill="#9fb0c8"/><circle cx="216" cy="541.6" r="1.1" fill="#6c6e70"/><circle cx="280.4" cy="541.6" r="1.1" fill="#6c6e70"/><circle cx="216" cy="627.4" r="1.1" fill="#6c6e70"/><circle cx="280.4" cy="627.4" r="1.1" fill="#6c6e70"/><text x="217.9" y="560.3" font-family='"Liberation Serif",serif' font-weight="bold" font-size="10.6" fill="#e8ecf4" textLength="24.2" lengthAdjust="spacingAndGlyphs">Bebur</text><rect x="217.6" y="561.2" width="24.6" height="0.7" fill="#d6dcea"/><text x="261.1" y="617" font-family='"Liberation Serif",serif' font-weight="bold" font-size="5.2" fill="#9fb0cc" textLength="17.8" lengthAdjust="spacingAndGlyphs">BT-6308</text></g>
<g filter="url(#fBlur)"><rect x="301.2" y="537.8" width="3.6" height="7" rx="1" fill="#8e8a84"/><path d="M297 546.5 Q297 543.6 303 543.6 Q309 543.6 309 546.5 V627 Q309 629.8 303 629.8 Q297 629.8 297 627 Z" fill="url(#gProbe)"/><rect x="304" y="606.9" width="5.4" height="2.4" fill="#fcfcfc"/></g>
<g filter="url(#fBlur2)"><rect x="493.5" y="815" width="7.3" height="11.8" fill="#a39f93" /><rect x="583.1" y="815" width="8.7" height="11.8" fill="#a39f93" /><rect x="497" y="612.6" width="91" height="198" fill="#1b1b1d" /><rect x="497" y="612.6" width="91" height="17.4" fill="url(#gBack1)" /><rect x="497" y="612.6" width="5" height="17.4" fill="#8f897d" opacity="0.6"/><rect x="580" y="612.6" width="8" height="17.4" fill="#3f3b37" opacity="0.7"/><rect x="533" y="613.6" width="15.6" height="1.6" fill="#27325c" /><path d="M521.6 634 L524.2 615.6" stroke="#1d1d1d" stroke-width="0.9" fill="none"/><rect x="497" y="629.8" width="91" height="4.4" fill="#c4c0b5" /><rect x="507" y="630.2" width="66" height="3.4" fill="#dedbd1" /><rect x="580.2" y="634.2" width="7.8" height="39.6" fill="#45423e" /><rect x="497" y="634.2" width="4" height="39.6" fill="#3b3531" /><rect x="500.8" y="634.2" width="79.4" height="34" fill="#2f2f32" /><rect x="500.8" y="634.2" width="79.4" height="3" fill="#5f5e5b" /><rect x="500.8" y="637" width="3.6" height="37" fill="#adaba6" /><rect x="577" y="637" width="3.4" height="37" fill="#8f8b85" /><rect x="504.6" y="650.4" width="21.8" height="2.6" fill="#a9a7a2" /><rect x="555" y="650.4" width="22" height="2.6" fill="#a9a7a2" /><rect x="504.6" y="665" width="72.6" height="3" fill="#b3b1ab" /><rect x="504.6" y="668" width="72.6" height="5.4" fill="#a39c91" /><rect x="511" y="642" width="11" height="6" fill="#d2d2ce" rx="2"/><circle cx="516.6" cy="640.2" r="1.7" fill="#cc3a3a"/><circle cx="516.9" cy="645" r="1.8" fill="#2f8a4a"/><circle cx="516.6" cy="649" r="1.5" fill="#c43c3c"/><rect x="506.6" y="657" width="17" height="4.2" fill="#d0cfca" /><rect x="508" y="661.4" width="14" height="1.6" fill="#8c3a3a" /><rect x="508.6" y="662" width="3" height="1.6" fill="#2f8a5a" /><rect x="514" y="654.8" width="6" height="1.6" fill="#2f7a4a" /><rect x="557" y="640.6" width="19.4" height="8.6" fill="#e0dfdb" rx="1"/><rect x="558" y="643.6" width="9" height="1.6" fill="#8a90b0" /><rect x="571" y="643" width="3.6" height="2" fill="#d04a4a" /><rect x="559" y="648.6" width="12" height="1.2" fill="#55555a" /><circle cx="565" cy="659.6" r="3.4" fill="#dedddb"/><circle cx="565" cy="659.8" r="1.4" fill="#2b2b2d"/><rect x="527.2" y="637" width="27" height="30.6" fill="#17181c" /><rect x="529.4" y="640.4" width="22.8" height="22.2" fill="#2457a4" /><rect x="531.8" y="647" width="17.6" height="9.2" fill="#2c69ee" /><rect x="538.6" y="650.4" width="4" height="1.6" fill="#e8ecff" /><rect x="546" y="649.4" width="1" height="3" fill="#f4f4ff" /><rect x="529.4" y="659.4" width="22.8" height="1" fill="#cfd8ec" /><text x="530.2" y="643.8" font-family='"Liberation Serif",serif' font-weight="bold" font-size="2.8" fill="#c9d4ea">Bebur</text><path d="M535 668 Q541 673.4 549 668 M565 663 Q566 670 561 673.4" stroke="#1e1e1e" stroke-width="1" fill="none"/><rect x="497" y="673.4" width="91" height="59" fill="#1a1a1d" /><rect x="497" y="673.4" width="4.8" height="140" fill="#6b675f" /><rect x="581.6" y="673.4" width="6.4" height="82" fill="#6f6b63" /><rect x="521.4" y="679" width="42.8" height="21.6" fill="#dfe1e2" rx="1.4"/><rect x="523.6" y="676.6" width="2.6" height="3" fill="#d9dbdc" /><rect x="547.4" y="676.6" width="2.6" height="3" fill="#d9dbdc" /><rect x="523" y="682.6" width="29" height="16.4" fill="#2a5db0" /><path d="M523 694 Q537 696.6 552 693.4 V695 Q537 698 523 695.6 Z" fill="#dfe6f4"/><text x="532.4" y="691" font-family='"Liberation Serif",serif' font-weight="bold" font-size="4.2" fill="#dbe3f3" textLength="10.8" lengthAdjust="spacingAndGlyphs">Bebur</text><rect x="532.4" y="691.5" width="10.8" height="0.5" fill="#dbe3f3" /><rect x="525" y="684" width="25" height="1.2" fill="#7f9ed2" /><rect x="511.4" y="704.8" width="52.6" height="10.8" fill="#58585b" /><rect x="506" y="702.6" width="58" height="4.4" fill="#262629" rx="2.2"/><circle cx="538.8" cy="703.8" r="3.9" fill="#c9c8c4"/><rect x="537.4" y="701.4" width="2.8" height="5.4" fill="#3a3a3d" rx="0.6"/><rect x="553" y="698" width="9.6" height="14.2" fill="#0f0f11" rx="1"/><rect x="556" y="700" width="3.6" height="3" fill="#6a6f80" /><rect x="563" y="710" width="10.6" height="13" fill="#222226" rx="4"/><rect x="501" y="716" width="80" height="16.4" fill="#151517" /><rect x="524.4" y="706" width="4.6" height="30" fill="#2a2a2e" /><rect x="512" y="722" width="66" height="1.4" fill="#4a4a4e" /><rect x="500.8" y="708" width="11" height="13.8" fill="#e2e2e0" rx="1.6"/><rect x="502.8" y="712.2" width="6" height="3.2" fill="#4a6ab0" /><rect x="503.4" y="718.6" width="5" height="2.4" fill="#c04a4a" /><rect x="503" y="724" width="8" height="2" fill="#8a8a8a" /><circle cx="554.6" cy="726" r="1" fill="#c8c8c8"/><circle cx="568" cy="730.6" r="1" fill="#c8c8c8"/><circle cx="536.6" cy="728" r="1.1" fill="#9a9a9a"/><rect x="501.8" y="732.4" width="79.8" height="53" fill="url(#gBack2)" /><rect x="497" y="784" width="91" height="26" fill="#5f5a52" /><rect x="501.8" y="755" width="79.8" height="1.2" fill="#3c3834" opacity="0.6"/><rect x="501.8" y="771.4" width="79.8" height="1.4" fill="#2c2a28" opacity="0.7"/><path d="M579.8 756 H587 V800 H585.6 Z" fill="#b0aaa0"/><rect x="497.4" y="756" width="4.6" height="54" fill="#a9a69d" /><rect x="523.6" y="735.4" width="9.8" height="13.8" fill="#e6e6e4" rx="1.6"/><rect x="525.8000000000001" y="739.6" width="5.4" height="3.6" fill="#3f5fa8" /><rect x="526.4" y="746.4" width="4.2" height="2.4" fill="#b46a6a" /><rect x="545.2" y="735.4" width="9.8" height="13.8" fill="#e6e6e4" rx="1.6"/><rect x="547.4000000000001" y="739.6" width="5.4" height="3.6" fill="#3f5fa8" /><rect x="548.0" y="746.4" width="4.2" height="2.4" fill="#b46a6a" /><path d="M514.6 735 Q511 750 520.6 749.6 M540 734 Q541.4 743 536 741.6 M561 735 Q563.6 742 556.6 744 M575 734 V760" stroke="#151515" stroke-width="0.9" fill="none"/><rect x="504.6" y="738" width="4.8" height="67.6" fill="#1a1a1d" /><rect x="503.8" y="769" width="6.4" height="5.4" fill="#232326" rx="1"/><rect x="506" y="758" width="2" height="4" fill="#8a8a8a" /><rect x="506" y="731.6" width="3.4" height="10.4" fill="#e42525" rx="1"/><rect x="566.6" y="722" width="5.4" height="72" fill="#1c1c1f" /><path d="M529 746 H541 L573 789 L565 794 L536 754 H529 Z" fill="#1d1d20"/><rect x="508.6" y="785.8" width="27" height="8.2" fill="#a3abab" /><rect x="553.6" y="785.8" width="14.6" height="8.2" fill="#9aa2a2" /><rect x="508.6" y="784.2" width="72" height="1.6" fill="#1d1d1f" /><rect x="508.6" y="793.8" width="72" height="5.4" fill="#7b756b" /><rect x="508.6" y="799" width="72" height="4.4" fill="#b9b5a9" /><rect x="497" y="803.4" width="91" height="7" fill="#615d55" /><path d="M573 782 L581.6 800 V810 H576 L569 790 Z" fill="#4a4641"/><rect x="520.6" y="749.4" width="5" height="6.4" fill="#1b1b1d" /><path d="M519.8 757.9 L529.8 754.2" stroke="#ea2424" stroke-width="3" stroke-linecap="round" fill="none"/><rect x="523" y="760" width="3.6" height="22" fill="#1d1d20" /><path d="M534 755.8 H551.4 Q553.4 770 552.4 782.2 H532 Q531 768 534 755.8 Z" fill="#196c49"/><rect x="537.2" y="756.4" width="13.2" height="19" fill="#cbae88" rx="5.4"/><ellipse cx="544" cy="771.4" rx="5.6" ry="3.6" fill="#b79972"/><rect x="553" y="770" width="12" height="24" fill="#19191c" /><rect x="557.6" y="788" width="2.6" height="5.6" fill="#d8d8d8" /><rect x="562.6" y="788" width="2.4" height="5.6" fill="#c8c8c8" /><ellipse cx="545.4" cy="789" rx="7.8" ry="7.4" fill="#161619"/><rect x="546" y="781.6" width="5.6" height="2.2" fill="#c04a4a" /><rect x="535.6" y="795" width="19.6" height="4.8" fill="#c7b38d" rx="1"/><rect x="493.4" y="810.6" width="98.5" height="6.4" fill="#aeaa9e" /><rect x="493.4" y="810.6" width="98.5" height="1.1" fill="#8a867c" /><path d="M492.1 606 H497.3 L497.8 812 H493.4 Z" fill="url(#gSteelL)"/><path d="M588.2 606 H593.3 L591.9 812 H586.8 Z" fill="url(#gSteelR)"/><path d="M480.4 600.4 H492.4 V611 Z" fill="#7d776c"/><path d="M605.6 600.4 H593.2 V611 Z" fill="#77716a"/><rect x="492.2" y="601" width="101" height="6.6" fill="#9d978b" /><rect x="492.2" y="607.2" width="101" height="5.6" fill="url(#gFasciaH)" /><path d="M500.2 587 H585.2 L605.6 597.6 H480.3 Z" fill="url(#gRoof)"/><rect x="480.3" y="597.4" width="125.3" height="3.2" fill="#c0baac" /><path d="M489 601.2 H597" stroke="#5e584e" stroke-width="1.4" stroke-dasharray="1 1" fill="none"/></g>
</svg>
</body>
</html>
